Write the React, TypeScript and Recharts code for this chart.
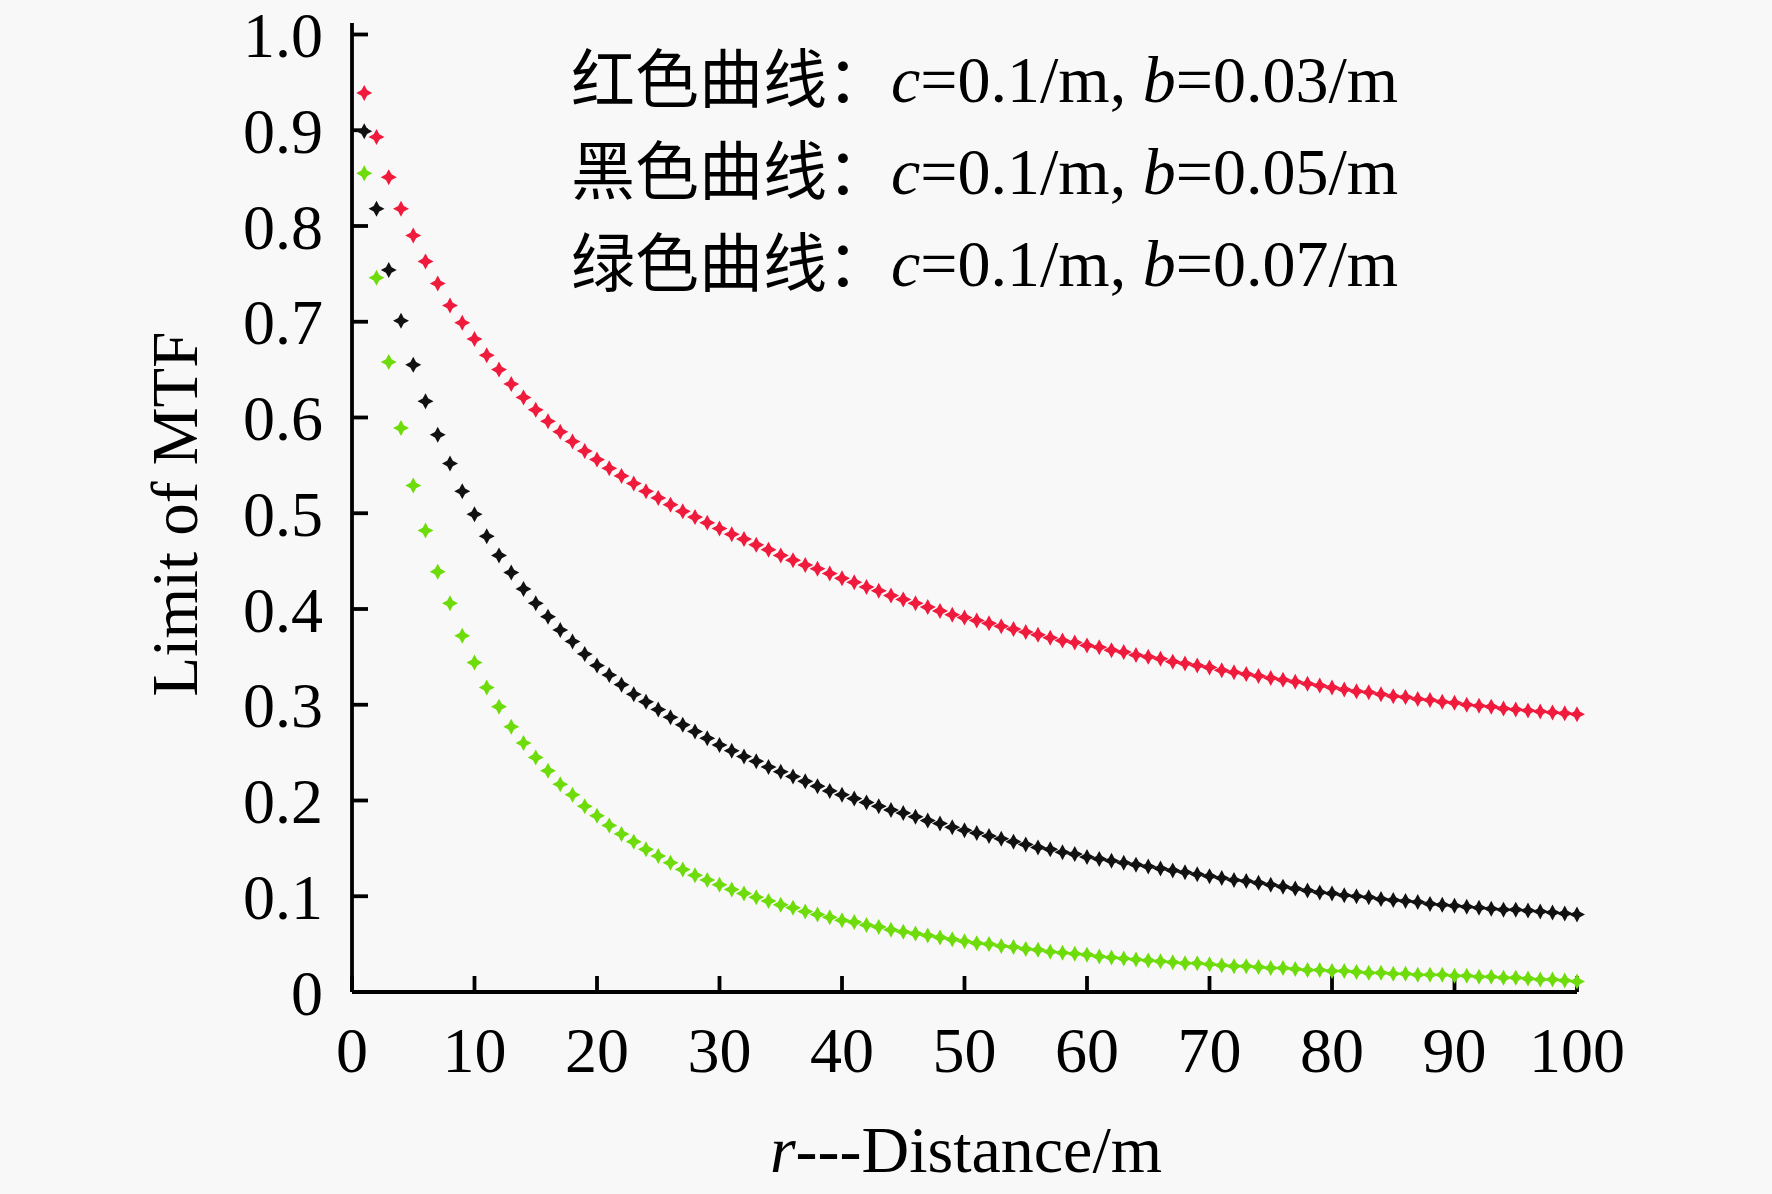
import * as React from 'react';
import { Scatter, ScatterChart, XAxis, YAxis } from 'recharts';

// r = 1..100 m, one point per metre
const distance = [
  1, 2, 3, 4, 5, 6, 7, 8, 9, 10, 11, 12, 13, 14, 15, 16, 17, 18, 19, 20,
  21, 22, 23, 24, 25, 26, 27, 28, 29, 30, 31, 32, 33, 34, 35, 36, 37, 38, 39, 40,
  41, 42, 43, 44, 45, 46, 47, 48, 49, 50, 51, 52, 53, 54, 55, 56, 57, 58, 59, 60,
  61, 62, 63, 64, 65, 66, 67, 68, 69, 70, 71, 72, 73, 74, 75, 76, 77, 78, 79, 80,
  81, 82, 83, 84, 85, 86, 87, 88, 89, 90, 91, 92, 93, 94, 95, 96, 97, 98, 99, 100,
];

// c = 0.1/m, b = 0.03/m
const redMtf = [
  0.939, 0.893, 0.851, 0.818, 0.79, 0.763, 0.74, 0.717, 0.699, 0.682,
  0.665, 0.65, 0.635, 0.621, 0.608, 0.596, 0.585, 0.575, 0.565, 0.556,
  0.547, 0.539, 0.531, 0.523, 0.516, 0.509, 0.502, 0.496, 0.49, 0.484,
  0.478, 0.473, 0.467, 0.462, 0.456, 0.451, 0.446, 0.442, 0.437, 0.432,
  0.428, 0.423, 0.419, 0.414, 0.41, 0.406, 0.402, 0.398, 0.394, 0.391,
  0.388, 0.385, 0.382, 0.379, 0.376, 0.373, 0.37, 0.367, 0.365, 0.362,
  0.36, 0.357, 0.355, 0.352, 0.35, 0.348, 0.345, 0.343, 0.341, 0.339,
  0.336, 0.334, 0.332, 0.33, 0.328, 0.326, 0.324, 0.322, 0.32, 0.318,
  0.316, 0.314, 0.313, 0.311, 0.309, 0.308, 0.306, 0.305, 0.303, 0.302,
  0.3, 0.299, 0.298, 0.296, 0.295, 0.294, 0.293, 0.292, 0.291, 0.29,
];

// c = 0.1/m, b = 0.05/m
const blackMtf = [
  0.899, 0.818, 0.754, 0.701, 0.655, 0.617, 0.582, 0.552, 0.523, 0.499,
  0.476, 0.456, 0.438, 0.421, 0.406, 0.392, 0.378, 0.366, 0.353, 0.341,
  0.331, 0.321, 0.311, 0.303, 0.295, 0.287, 0.279, 0.272, 0.265, 0.258,
  0.252, 0.246, 0.241, 0.235, 0.23, 0.225, 0.22, 0.215, 0.21, 0.206,
  0.202, 0.198, 0.194, 0.19, 0.187, 0.183, 0.179, 0.176, 0.172, 0.169,
  0.166, 0.163, 0.16, 0.157, 0.154, 0.151, 0.149, 0.146, 0.144, 0.141,
  0.139, 0.137, 0.135, 0.133, 0.131, 0.129, 0.127, 0.125, 0.123, 0.121,
  0.119, 0.117, 0.116, 0.114, 0.112, 0.11, 0.108, 0.106, 0.104, 0.103,
  0.101, 0.1, 0.099, 0.097, 0.096, 0.095, 0.094, 0.092, 0.091, 0.09,
  0.089, 0.088, 0.087, 0.086, 0.086, 0.085, 0.084, 0.083, 0.082, 0.081,
];

// c = 0.1/m, b = 0.07/m
const greenMtf = [
  0.855, 0.746, 0.658, 0.589, 0.529, 0.482, 0.439, 0.406, 0.372, 0.344,
  0.318, 0.298, 0.277, 0.26, 0.245, 0.231, 0.217, 0.206, 0.194, 0.184,
  0.174, 0.165, 0.157, 0.149, 0.142, 0.135, 0.128, 0.122, 0.117, 0.112,
  0.107, 0.103, 0.099, 0.095, 0.091, 0.088, 0.084, 0.081, 0.078, 0.075,
  0.073, 0.07, 0.068, 0.065, 0.063, 0.061, 0.059, 0.057, 0.055, 0.053,
  0.051, 0.05, 0.048, 0.047, 0.045, 0.044, 0.042, 0.041, 0.04, 0.039,
  0.037, 0.036, 0.035, 0.034, 0.033, 0.032, 0.031, 0.03, 0.03, 0.029,
  0.028, 0.027, 0.027, 0.026, 0.025, 0.025, 0.024, 0.023, 0.023, 0.022,
  0.022, 0.021, 0.02, 0.02, 0.019, 0.019, 0.018, 0.018, 0.018, 0.017,
  0.017, 0.016, 0.016, 0.015, 0.015, 0.014, 0.013, 0.013, 0.012, 0.011,
];

const xTicks = [0, 10, 20, 30, 40, 50, 60, 70, 80, 90, 100];
const yTicks = [0, 0.1, 0.2, 0.3, 0.4, 0.5, 0.6, 0.7, 0.8, 0.9, 1.0];

const noteNames = ['红色曲线', '黑色曲线', '绿色曲线'];
const noteC = ['0.1', '0.1', '0.1'];
const noteB = ['0.03', '0.05', '0.07'];

const W = 1772;
const H = 1194;
const SERIF = '"Liberation Serif", "Times New Roman", serif';
const CJK = '"Noto Sans CJK SC", sans-serif';

const toPoints = (vals: number[]) => vals.map((v, i) => ({ r: distance[i], v }));

// small four-pointed star marker
function star(color: string) {
  return (props: any) => {
    const { cx, cy } = props;
    if (cx == null || cy == null) return <g />;
    const o = 8;
    const n = 2.8;
    const d = `M${cx},${cy - o} L${cx + n},${cy - n} L${cx + o},${cy} L${cx + n},${cy + n} L${cx},${cy + o} L${cx - n},${cy + n} L${cx - o},${cy} L${cx - n},${cy - n} Z`;
    return <path d={d} fill={color} />;
  };
}

const axisStroke = { stroke: '#000', strokeWidth: 3.8 };
const tickFont = { fill: '#000', fontSize: 64, fontFamily: SERIF };

export default function App() {
  return (
    <div style={{ position: 'absolute', left: 0, top: 0, width: W, height: H, background: '#f8f8f8' }}>
      <ScatterChart width={W} height={H} margin={{ top: 23, right: 195, left: 0, bottom: 0 }}>
        <XAxis
          type="number"
          dataKey="r"
          domain={[0, 100]}
          ticks={xTicks}
          interval={0}
          height={202}
          axisLine={axisStroke}
          tickLine={axisStroke}
          tickSize={-16}
          tickMargin={51}
          tick={tickFont}
        />
        <YAxis
          type="number"
          dataKey="v"
          domain={[0, 1.012]}
          ticks={yTicks}
          interval={0}
          allowDataOverflow
          width={352}
          axisLine={axisStroke}
          tickLine={axisStroke}
          tickSize={-16}
          tickMargin={45}
          tick={tickFont}
          tickFormatter={(v: number) => (v === 0 ? '0' : v.toFixed(1))}
        />
        <Scatter data={toPoints(redMtf)} shape={star('#f01a3c')} isAnimationActive={false} />
        <Scatter data={toPoints(blackMtf)} shape={star('#111111')} isAnimationActive={false} />
        <Scatter data={toPoints(greenMtf)} shape={star('#6ddc0a')} isAnimationActive={false} />
      </ScatterChart>
      <svg
        width={W}
        height={H}
        style={{ position: 'absolute', left: 0, top: 0, pointerEvents: 'none' }}
      >
        <text
          x={175}
          y={514}
          transform="rotate(-90 175 514)"
          textAnchor="middle"
          dominantBaseline="central"
          fontFamily={SERIF}
          fontSize={65}
          fill="#000"
        >
          Limit of MTF
        </text>
        <text x={966} y={1172} textAnchor="middle" fontFamily={SERIF} fontSize={66} fill="#000">
          <tspan fontStyle="italic">r</tspan>---Distance/m
        </text>
        {noteNames.map((name, i) => (
          <text key={name} x={571} y={102 + i * 92} fill="#000">
            <tspan fontFamily={CJK} fontSize={64}>{name}：</tspan>
            <tspan fontFamily={SERIF} fontSize={66} fontStyle="italic">c</tspan>
            <tspan fontFamily={SERIF} fontSize={66}>={noteC[i]}/m, </tspan>
            <tspan fontFamily={SERIF} fontSize={66} fontStyle="italic">b</tspan>
            <tspan fontFamily={SERIF} fontSize={66}>={noteB[i]}/m</tspan>
          </text>
        ))}
      </svg>
    </div>
  );
}
